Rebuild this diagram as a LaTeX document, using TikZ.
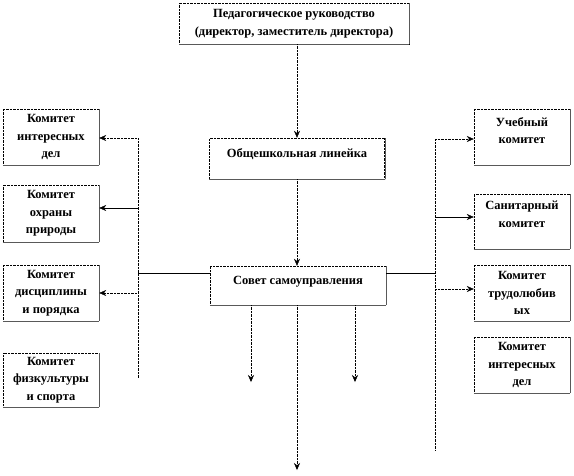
\documentclass[tikz,border=0pt]{standalone}
\usepackage{fontspec}
\setmainfont{Liberation Serif}
\usetikzlibrary{arrows.meta}
\tikzset{
  box/.style={draw=black, densely dotted, fill=white, align=center, inner sep=2pt,
    font=\bfseries\fontsize{12.5}{17.5}\selectfont,
    append after command={(\tikzlastnode.south west) edge[solid, draw=gray!70!black] (\tikzlastnode.south east)
      (\tikzlastnode.south east) edge[solid, draw=gray!70!black] (\tikzlastnode.north east)}},
  kid/.style={box, minimum width=96pt, minimum height=56pt},
  dotarrow/.style={densely dotted, -{Stealth[length=7pt,width=6pt]}},
  solarrow/.style={solid, -{Stealth[length=7pt,width=6pt]}}
}
\begin{document}
\begin{tikzpicture}[x=1pt, y=-1pt]
\useasboundingbox (0,0) rectangle (574,475);

% Руководство и центральная колонка
\node[box, minimum width=230pt, minimum height=41pt] (ruk) at (294,23.5)
  {Педагогическое руководство\\(директор, заместитель директора)};
\node[box, minimum width=175pt, text height=17pt, text depth=20pt] (linejka) at (297,158.5)
  {Общешкольная линейка};
\node[box, minimum width=176pt, text height=16pt, text depth=19pt] (sovet) at (298,285.5)
  {Совет самоуправления};

% Комитеты слева
\node[kid] (lk1) at (51,137) {Комитет\\интересных\\дел};
\node[kid, minimum height=57pt] (lk2) at (51,213.5) {Комитет\\охраны\\природы};
\node[kid] (lk3) at (51,293) {Комитет\\дисциплины\\и порядка};
\node[kid, minimum height=54pt] (lk4) at (51,380) {Комитет\\физкультуры\\и спорта};

% Комитеты справа
\node[kid] (rk1) at (522,137) {Учебный\\комитет\\[-5pt]};
\node[kid, minimum height=55pt] (rk2) at (522,221.5) {Санитарный\\комитет\\[-3pt]};
\node[kid] (rk3) at (522,293) {Комитет\\трудолюбив\\ых};
\node[kid] (rk4) at (522,365) {Комитет\\интересных\\дел};

% Центральные стрелки
\coordinate (ax) at (297,0);
\draw[dotarrow] (ruk.south -| ax) -- (linejka.north -| ax);
\draw[dotarrow] (linejka.south -| ax) -- (sovet.north -| ax);

% Стрелки вниз от совета
\coordinate (d1) at (251,382);
\coordinate (d2) at (297,470);
\coordinate (d3) at (355,382);
\draw[dotarrow] (sovet.south -| d1) -- (d1);
\draw[dotarrow] (sovet.south -| d2) -- (d2);
\draw[dotarrow] (sovet.south -| d3) -- (d3);

% Левая ветвь
\coordinate (lt) at (138,138);
\coordinate (lb) at (138,378);
\coordinate (lm) at (138,273);
\draw[densely dotted] (lt) -- (lb);
\draw (sovet.west |- lm) -- (lm);
\coordinate (l1) at (138,138);
\coordinate (l2) at (138,208);
\coordinate (l3) at (138,293);
\draw[dotarrow] (l1) -- (l1 -| lk1.east);
\draw[solarrow] (l2) -- (l2 -| lk2.east);
\draw[dotarrow] (l3) -- (l3 -| lk3.east);

% Правая ветвь
\coordinate (rt) at (435,139);
\coordinate (rb) at (435,450);
\coordinate (rm) at (435,273);
\draw[densely dotted] (rt) -- (rb);
\draw (sovet.east |- rm) -- (rm);
\coordinate (r1) at (435,139);
\coordinate (r2) at (435,217);
\coordinate (r3) at (435,289);
\draw[dotarrow] (r1) -- (r1 -| rk1.west);
\draw[solarrow] (r2) -- (r2 -| rk2.west);
\draw[dotarrow] (r3) -- (r3 -| rk3.west);
\end{tikzpicture}
\end{document}
